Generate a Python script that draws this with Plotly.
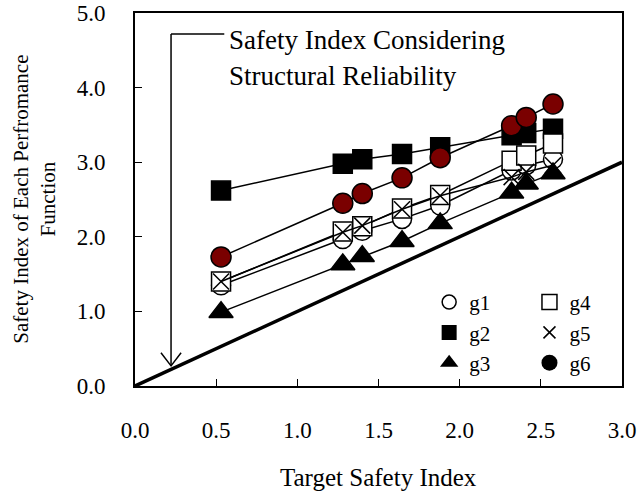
import plotly.graph_objects as go

# ---- data ----
target_beta = [0.53, 1.28, 1.40, 1.645, 1.88, 2.32, 2.41, 2.575]
g1 = [1.35, 1.97, 2.08, 2.24, 2.42, 2.89, 2.96, 3.04]
g2 = [2.62, 2.98, 3.04, 3.11, 3.20, 3.36, 3.39, 3.45]
g3 = [0.99, 1.63, 1.74, 1.94, 2.18, 2.59, 2.71, 2.85]
g4 = [1.40, 2.07, 2.14, 2.38, 2.56, 3.02, 3.09, 3.25]
g5 = [1.40, 2.06, 2.15, 2.37, 2.55, 2.80, 2.87, 2.96]
g6 = [1.73, 2.45, 2.58, 2.79, 3.06, 3.49, 3.60, 3.78]

diag_x = [0.0, 3.0]
diag_y = [0.0, 3.0]

x_ticks = [0.0, 0.5, 1.0, 1.5, 2.0, 2.5, 3.0]
y_ticks = [0.0, 1.0, 2.0, 3.0, 4.0, 5.0]

# annotation arrow geometry (data units)
arrow_x = 0.222
arrow_top = 4.72
arrow_tip = 0.27
arrow_bar_end = 0.55
head_dx = 0.062
head_dy = 0.175

FONT = "Liberation Serif"
LW = 1.5

fig = go.Figure()

fig.add_trace(go.Scatter(x=diag_x, y=diag_y, mode="lines",
                         line=dict(color="black", width=3.5),
                         showlegend=False, hoverinfo="skip"))

series = [
    ("g2", g2, dict(symbol="square", size=19, color="black",
                    line=dict(color="black", width=LW))),
    ("g1", g1, dict(symbol="circle", size=19, color="white",
                    line=dict(color="black", width=LW))),
    ("g4", g4, dict(symbol="square", size=19, color="white",
                    line=dict(color="black", width=LW))),
    ("g5", g5, dict(symbol="x-thin", size=16, color="black",
                    line=dict(color="black", width=LW))),
    ("g3", g3, dict(symbol="triangle-up", size=21, color="black",
                    line=dict(color="black", width=LW))),
    ("g6", g6, dict(symbol="circle", size=20, color="#7a0000",
                    line=dict(color="black", width=LW))),
]
for name, ys, mk in series:
    fig.add_trace(go.Scatter(x=target_beta, y=ys, mode="lines+markers",
                             line=dict(color="black", width=LW),
                             marker=mk, name=name, showlegend=False))

# legend-only entries (legend shows markers only; g6 is black in legend)
legend_specs = [
    ("g1", "legend", dict(symbol="circle-open", size=14, color="black", line=dict(width=1.5))),
    ("g2", "legend", dict(symbol="square", size=15, color="black")),
    ("g3", "legend", dict(symbol="triangle-up", size=16, color="black")),
    ("g4", "legend2", dict(symbol="square-open", size=15, color="black", line=dict(width=1.5))),
    ("g5", "legend2", dict(symbol="x-thin-open", size=12, color="black", line=dict(width=1.5, color="black"))),
    ("g6", "legend2", dict(symbol="circle", size=16, color="black")),
]
for name, lg, mk in legend_specs:
    fig.add_trace(go.Scatter(x=[None], y=[None], mode="markers", marker=mk,
                             name=name, legend=lg, showlegend=True))

# arrow annotation drawn with shapes
fig.add_shape(type="line", xref="x", yref="y", x0=arrow_x, y0=arrow_top,
              x1=arrow_x, y1=arrow_tip, line=dict(color="black", width=1.5))
fig.add_shape(type="line", xref="x", yref="y", x0=arrow_x, y0=arrow_top,
              x1=arrow_bar_end, y1=arrow_top, line=dict(color="black", width=1.5))
fig.add_shape(type="path", xref="x", yref="y",
              path=f"M {arrow_x-head_dx},{arrow_tip+head_dy} L {arrow_x},{arrow_tip} L {arrow_x+head_dx},{arrow_tip+head_dy}",
              line=dict(color="black", width=1.5))

fig.add_annotation(x=arrow_bar_end + 0.015, y=4.64, xref="x", yref="y",
                   text="Safety Index Considering", showarrow=False,
                   xanchor="left", yanchor="middle",
                   font=dict(family=FONT, size=27, color="black"))
fig.add_annotation(x=arrow_bar_end + 0.015, y=4.15, xref="x", yref="y",
                   text="Structural Reliability", showarrow=False,
                   xanchor="left", yanchor="middle",
                   font=dict(family=FONT, size=27, color="black"))

# axis titles as annotations
fig.add_annotation(x=0.5, y=-0.2466, xref="paper", yref="paper",
                   text="Target Safety Index", showarrow=False,
                   xanchor="center", yanchor="middle",
                   font=dict(family=FONT, size=25, color="black"))
fig.add_annotation(x=-0.207, y=0.50, xref="paper", yref="paper",
                   text="Safety Index of Each Perfromance<br>Function",
                   showarrow=False, textangle=-90,
                   xanchor="center", yanchor="middle",
                   font=dict(family=FONT, size=21, color="black"))

axis_common = dict(showgrid=False, zeroline=False, showline=True,
                   linecolor="black", linewidth=2, mirror=True,
                   ticks="inside", ticklen=7, tickwidth=1, tickcolor="black",
                   tickfont=dict(family=FONT, size=23, color="black"),
                   tickformat=".1f", automargin=False)

fig.update_xaxes(range=[0, 3], tickvals=x_ticks, ticklabelstandoff=22, **axis_common)
fig.update_yaxes(range=[0, 5], tickvals=y_ticks, ticklabelstandoff=23, **axis_common)

legend_common = dict(font=dict(family=FONT, size=21, color="black"),
                     bgcolor="rgba(0,0,0,0)", itemwidth=30,
                     tracegroupgap=0, yanchor="top", xanchor="left",
                     itemsizing="trace")
fig.update_layout(
    width=642, height=492,
    margin=dict(l=135, r=20, t=13, b=106, autoexpand=False),
    paper_bgcolor="white", plot_bgcolor="white",
    showlegend=True,
    legend=dict(x=0.604, y=0.279, **legend_common),
    legend2=dict(x=0.810, y=0.279, **legend_common),
)

fig.write_html("out.html")
